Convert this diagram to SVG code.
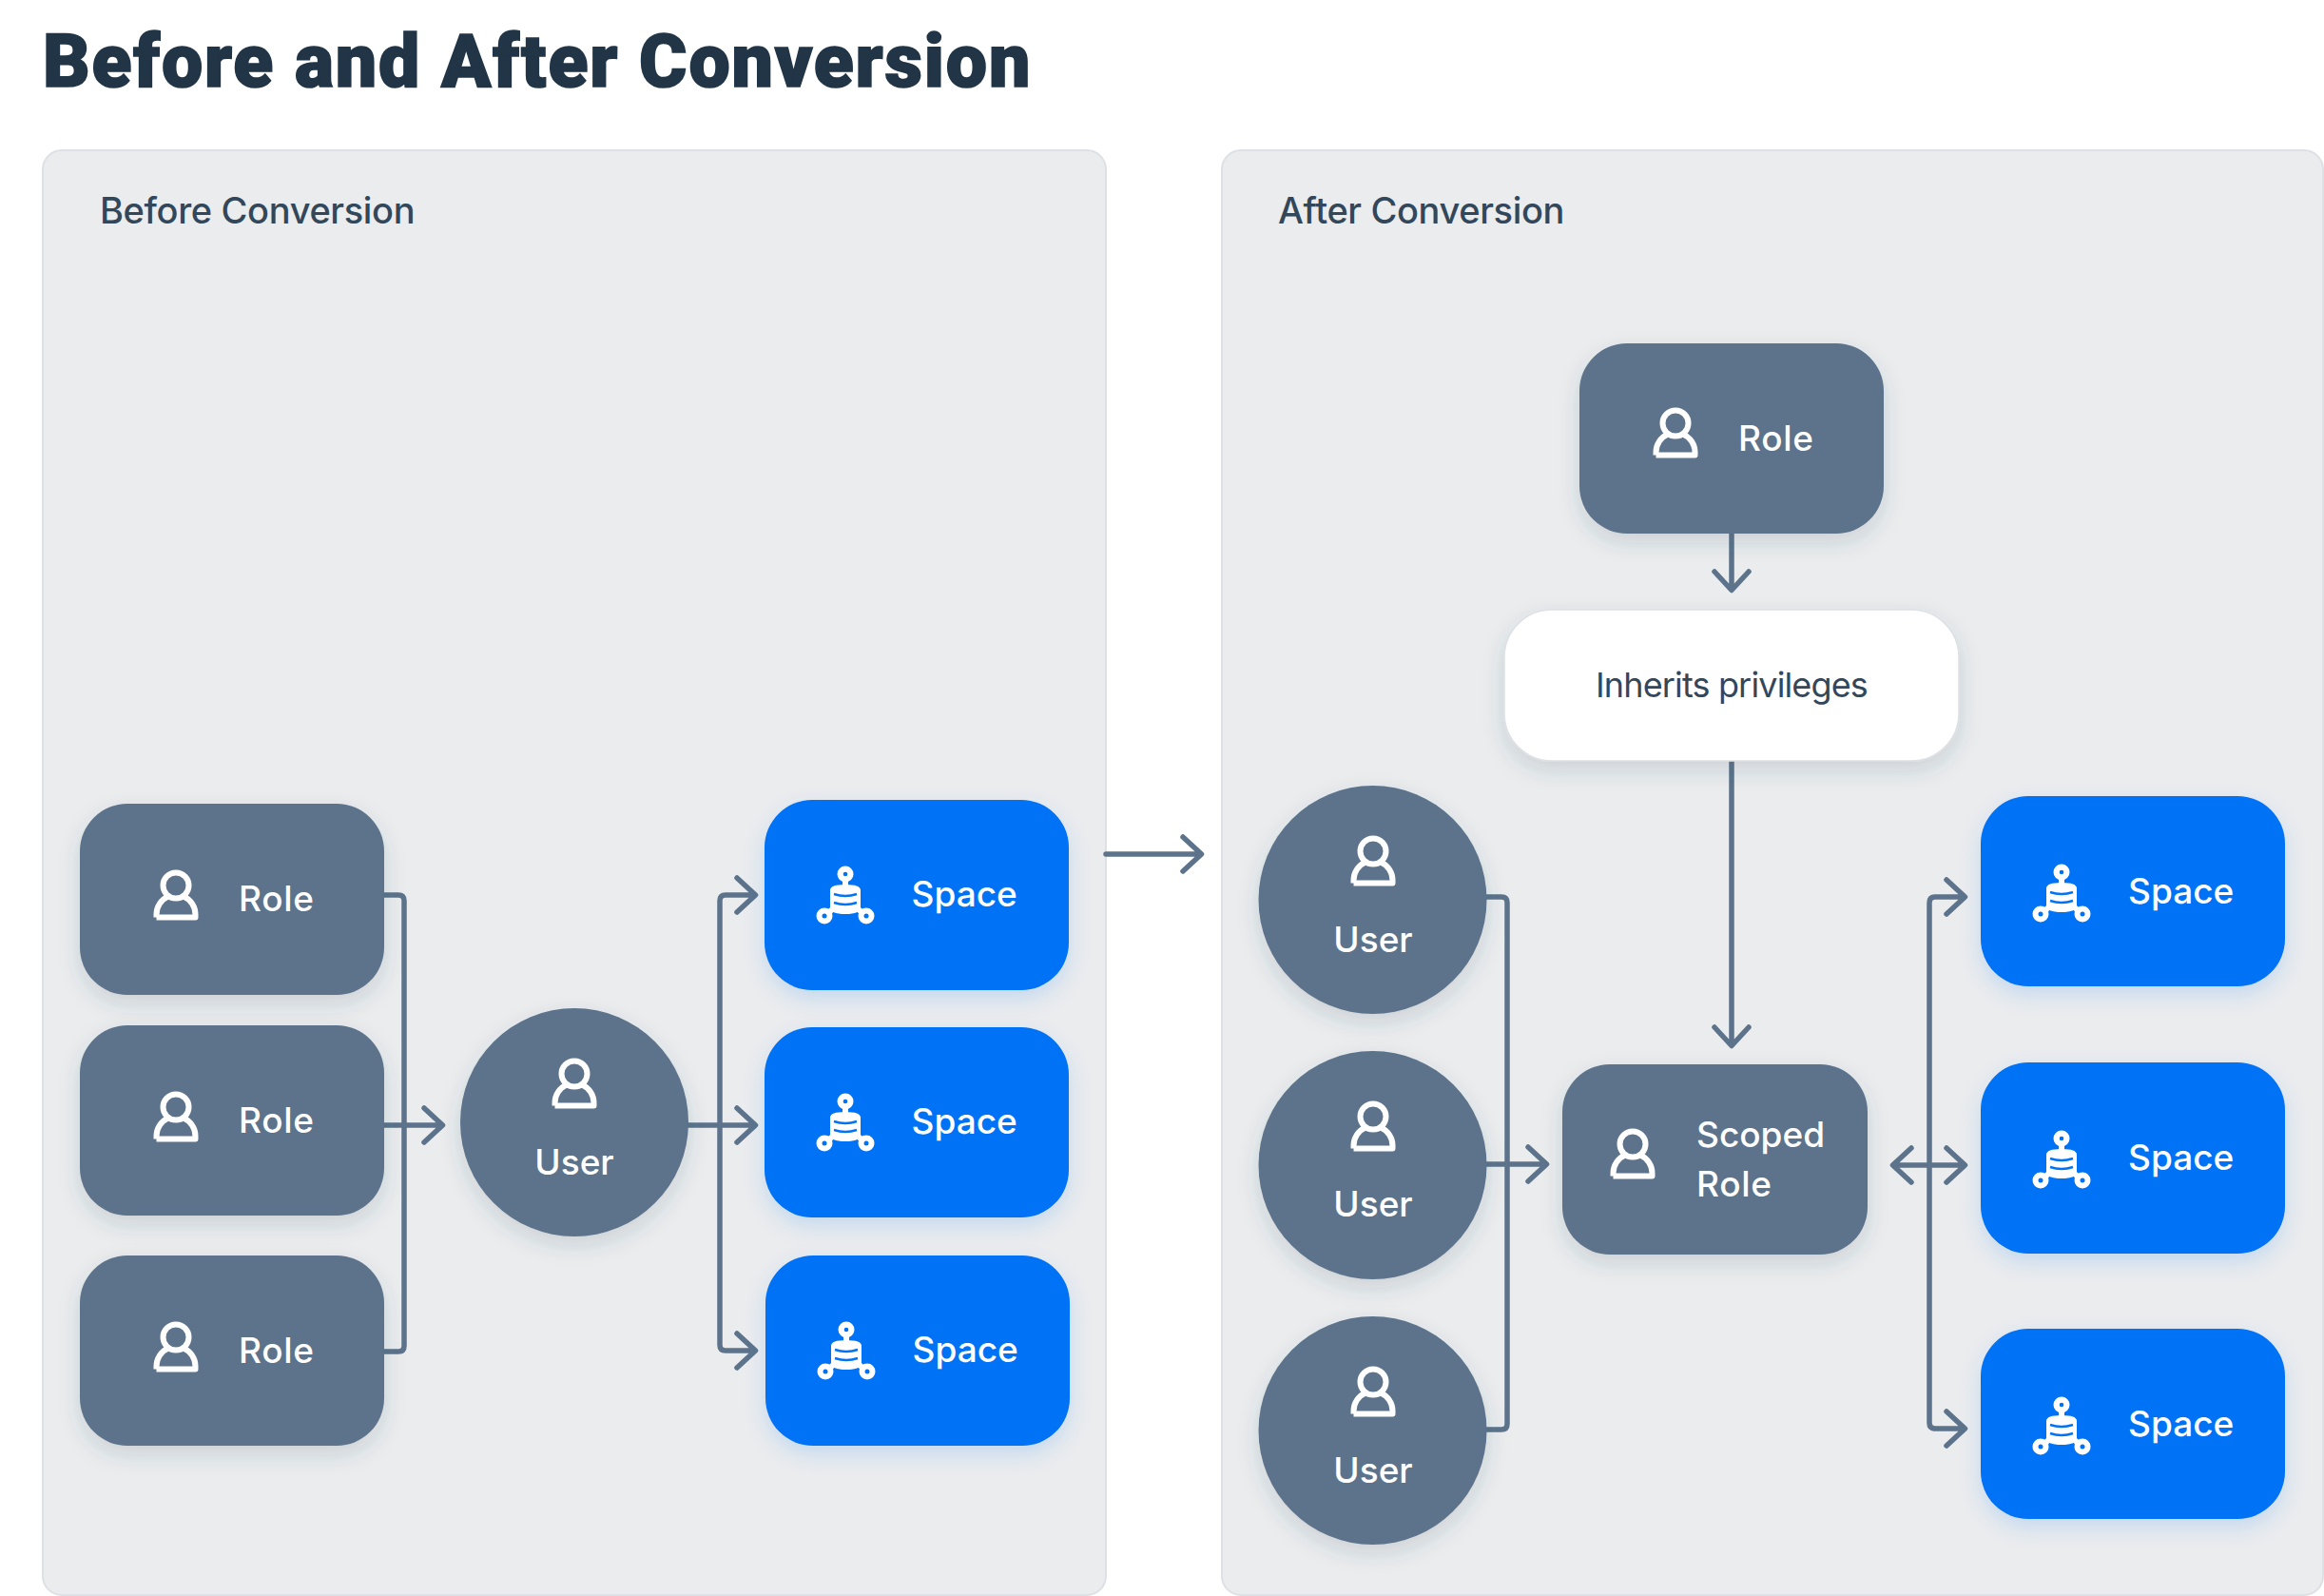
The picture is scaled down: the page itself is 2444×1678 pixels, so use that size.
<svg xmlns="http://www.w3.org/2000/svg" width="2444" height="1678" viewBox="0 0 2444 1678">
<style>
text{font-family:"Inter","Liberation Sans",sans-serif}
.title{font-family:"Roboto","Liberation Sans",sans-serif;font-weight:900;font-size:77px;letter-spacing:1.8px;fill:#213547;stroke:#213547;stroke-width:1.6px}
.ph{font-weight:500;font-size:38px;letter-spacing:-.35px;fill:#33475b}
.nt{font-weight:500;font-size:37px;fill:#fff}
.ro{letter-spacing:.7px}
.panel{fill:#eaecee;stroke:#dde0e4;stroke-width:2}
.slate{fill:#5c738b;filter:url(#ss)}
.blue{fill:#0072f5;filter:url(#sb)}
.conn{fill:none;stroke:#5c738b;stroke-width:5.5;stroke-linecap:round;stroke-linejoin:round}
</style>
<defs>
<filter id="ss" x="-20%" y="-20%" width="140%" height="150%"><feDropShadow dx="0" dy="9" stdDeviation="11" flood-color="#33475b" flood-opacity=".16"/></filter>
<filter id="sb" x="-20%" y="-20%" width="140%" height="150%"><feDropShadow dx="0" dy="9" stdDeviation="11" flood-color="#0072f5" flood-opacity=".16"/></filter>
<g id="person" fill="none" stroke="#fff" stroke-width="6" stroke-linejoin="round">
<circle cx="0" cy="0" r="13.5"/>
<path d="M-20.5 33.5H20.5V30.5A20.5 20.5 0 0 0 8 11.6M-8 11.6A20.5 20.5 0 0 0-20.5 30.5V33.5"/>
</g>
<g id="spaceicon">
<path d="M0 0V12M-22 44L-10 34M22 44L10 34" stroke="#fff" stroke-width="6" fill="none"/>
<circle cx="0" cy="0" r="8.5" fill="#fff"/><circle cx="0" cy="0" r="2.3" fill="#0072f5"/>
<circle cx="-22" cy="44" r="8.5" fill="#fff"/><circle cx="-22" cy="44" r="2.5" fill="#0072f5"/>
<circle cx="22" cy="44" r="8.5" fill="#fff"/><circle cx="22" cy="44" r="2.5" fill="#0072f5"/>
<path d="M-15 17Q-15 12 0 12Q15 12 15 17V35Q15 41 0 41Q-15 41-15 35Z" fill="#fff" stroke="#fff" stroke-width="2"/>
<path d="M-12 21Q0 25 12 21M-12 30Q0 34 12 30" stroke="#0072f5" stroke-width="2.4" fill="none"/>
</g>
</defs>
<rect width="2444" height="1678" fill="#fff"/>
<text class="title" x="45" y="91">Before and After Conversion</text>
<g id="panel-before"><rect class="panel" x="45" y="158" width="1118" height="1519" rx="20"/><text class="ph" x="105" y="235">Before Conversion</text></g>
<g id="panel-after"><rect class="panel" x="1285" y="158" width="1158" height="1519" rx="20"/><text class="ph" x="1344" y="235">After Conversion</text></g>
<g id="connectors">
<path class="conn" d="M403 941H419Q425 941 425 947V1415Q425 1421 419 1421H403M403 1183H464M446 1165L465.500 1183L446 1201"/>
<path class="conn" d="M724 1183H793M793 941H763Q757 941 757 947V1414Q757 1420 763 1420H793M775 923L794.500 941L775 959M775 1165L794.500 1183L775 1201M775 1402L794.500 1420L775 1438"/>
<path class="conn" d="M1163 898H1261M1244 880L1263.500 898L1244 916"/>
<path class="conn" d="M1563 943H1579Q1585 943 1585 949V1497Q1585 1503 1579 1503H1563M1563 1224H1625M1607 1206L1626.500 1224L1607 1242"/>
<path class="conn" d="M1821 561V619M1803 601L1821 620.500L1839 601M1821 800V1098M1803 1080L1821 1099.500L1839 1080"/>
<path class="conn" d="M1992 1225H2065M2010 1207L1990.500 1225L2010 1243M2047 1207L2066.500 1225L2047 1243M2065 943H2035Q2029 943 2029 949V1496Q2029 1502 2035 1502H2065M2047 925L2066.500 943L2047 961M2047 1484L2066.500 1502L2047 1520"/>
</g>
<g id="role-1"><rect class="slate" x="84" y="845" width="320" height="201" rx="50"/><use href="#person" x="185" y="931"/><text class="nt ro" x="251" y="958">Role</text></g>
<g id="role-2"><rect class="slate" x="84" y="1078" width="320" height="200" rx="50"/><use href="#person" x="185" y="1164"/><text class="nt ro" x="251" y="1191">Role</text></g>
<g id="role-3"><rect class="slate" x="84" y="1320" width="320" height="200" rx="50"/><use href="#person" x="185" y="1406"/><text class="nt ro" x="251" y="1433">Role</text></g>
<g id="user-left"><circle class="slate" cx="604" cy="1180" r="120"/><use href="#person" x="604" y="1129"/><text class="nt" x="604" y="1235" text-anchor="middle">User</text></g>
<g id="space-1"><rect class="blue" x="804" y="841" width="320" height="200" rx="50"/><use href="#spaceicon" x="889" y="919"/><text class="nt" x="958.500" y="953">Space</text></g>
<g id="space-2"><rect class="blue" x="804" y="1080" width="320" height="200" rx="50"/><use href="#spaceicon" x="889" y="1158"/><text class="nt" x="958.500" y="1192">Space</text></g>
<g id="space-3"><rect class="blue" x="805" y="1320" width="320" height="200" rx="50"/><use href="#spaceicon" x="890" y="1398"/><text class="nt" x="959.500" y="1432">Space</text></g>
<g id="role-top"><rect class="slate" x="1661" y="361" width="320" height="200" rx="50"/><use href="#person" x="1762" y="445"/><text class="nt ro" x="1828" y="474">Role</text></g>
<g id="inherits"><rect x="1582" y="641" width="478" height="159" rx="50" fill="#fff" stroke="#dde0e4" stroke-width="1.5" filter="url(#ss)"/><text x="1821" y="733" text-anchor="middle" font-size="36" letter-spacing="-.85" fill="#33475b">Inherits privileges</text></g>
<g id="user-1"><circle class="slate" cx="1443.500" cy="946" r="120"/><use href="#person" x="1444" y="895"/><text class="nt" x="1444" y="1001" text-anchor="middle">User</text></g>
<g id="user-2"><circle class="slate" cx="1443.500" cy="1225" r="120"/><use href="#person" x="1444" y="1174"/><text class="nt" x="1444" y="1279" text-anchor="middle">User</text></g>
<g id="user-3"><circle class="slate" cx="1443.500" cy="1504" r="120"/><use href="#person" x="1444" y="1453"/><text class="nt" x="1444" y="1559" text-anchor="middle">User</text></g>
<g id="scoped-role"><rect class="slate" x="1643" y="1119" width="321" height="200" rx="50"/><use href="#person" x="1717" y="1203"/><text class="nt" x="1784" y="1206">Scoped</text><text class="nt ro" x="1784" y="1258">Role</text></g>
<g id="space-r1"><rect class="blue" x="2083" y="837" width="320" height="200" rx="50"/><use href="#spaceicon" x="2168" y="917"/><text class="nt" x="2238" y="950">Space</text></g>
<g id="space-r2"><rect class="blue" x="2083" y="1117" width="320" height="201" rx="50"/><use href="#spaceicon" x="2168" y="1197"/><text class="nt" x="2238" y="1230">Space</text></g>
<g id="space-r3"><rect class="blue" x="2083" y="1397" width="320" height="200" rx="50"/><use href="#spaceicon" x="2168" y="1477"/><text class="nt" x="2238" y="1510">Space</text></g>
</svg>
